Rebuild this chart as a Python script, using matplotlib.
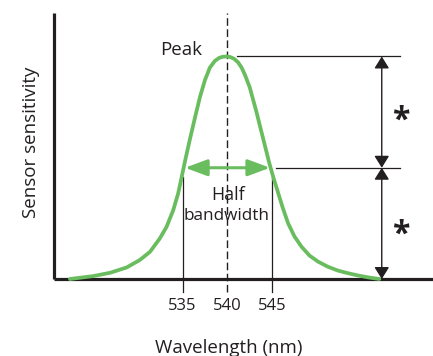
import matplotlib
matplotlib.use("Agg")
import matplotlib.pyplot as plt
from matplotlib import font_manager

plt.rcParams['font.family'] = ['Open Sans', 'DejaVu Sans']

# Data
wavelength = [522.4, 525.0, 526.9, 528.75, 530.2, 531.35, 532.45, 533.2, 533.95, 534.5,
              534.9, 535.3, 535.8, 536.4, 536.95, 537.5, 538.05, 538.6, 539.1, 539.5,
              539.9, 540.3, 540.75, 541.2, 541.6, 542.0, 542.5, 543.2, 543.95, 544.7,
              545.2, 545.7, 546.2, 546.8, 547.5, 548.3, 549.2, 550.15, 551.2, 552.35,
              553.5, 554.6, 555.8, 557.0]
sensitivity = [0.0, 0.013, 0.028, 0.052, 0.085, 0.122, 0.182, 0.234, 0.309, 0.384,
               0.459, 0.535, 0.625, 0.728, 0.819, 0.894, 0.950, 0.980, 0.994, 0.999,
               1.0, 0.998, 0.990, 0.974, 0.950, 0.915, 0.862, 0.760, 0.640, 0.520,
               0.450, 0.385, 0.320, 0.250, 0.192, 0.145, 0.105, 0.078, 0.056, 0.038,
               0.026, 0.016, 0.007, 0.0]
tick_values = [535, 540, 545]
tick_labels = ["535", "540", "545"]
peak_wl = 540
half_low, half_high = 535, 545
peak_level = 1.0
half_level = 0.5

GREEN = '#6abd5e'
INK = '#231f20'

names = {f.name for f in font_manager.fontManager.ttflist}
if 'Liberation Sans Narrow' in names:
    narrow = ['Liberation Sans Narrow', 'Open Sans', 'DejaVu Sans']
    nsize = 14
else:
    narrow = ['Open Sans', 'DejaVu Sans']
    nsize = 12.3

W, H = 433, 356
fig = plt.figure(figsize=(W / 100, H / 100), dpi=100)
ax = fig.add_axes([54 / W, 1 - 279 / H, 1 - 54 / W, (279 - 13) / H])
ax.set_xlim(520.62, 563.0)
ax.set_ylim(0, 1.1955)

for s in ['top', 'right']:
    ax.spines[s].set_visible(False)
for s in ['left', 'bottom']:
    ax.spines[s].set_linewidth(2.3)
    ax.spines[s].set_color(INK)
    ax.spines[s].set_capstyle('butt')

ax.set_yticks([])
ax.set_xticks(tick_values)
ax.set_xticklabels(tick_labels)
ax.tick_params(axis='x', length=0, pad=14, labelsize=12, labelcolor=INK)

# curve
ax.plot(wavelength, sensitivity, color=GREEN, lw=2.7, solid_joinstyle='round',
        solid_capstyle='round', zorder=3, clip_on=False)

# dashed center line
ax.plot([peak_wl, peak_wl], [-0.058, 1.1955], color=INK, lw=1.0,
        ls=(0, (5.5, 2.5)), clip_on=False, zorder=2)

# vertical lines at half bandwidth
for x in (half_low, half_high):
    ax.plot([x, x], [-0.058, 0.458], color=INK, lw=0.9, clip_on=False, zorder=2)

# horizontal reference lines
ax.plot([541.08, 559.32], [peak_level, peak_level], color=INK, lw=0.9, zorder=2)
ax.plot([545.45, 559.32], [half_level, half_level], color=INK, lw=0.9, zorder=2)

# black double arrows
arr_x = 557.27
for y0, y1 in ((peak_level, half_level), (half_level, 0.0)):
    ax.annotate('', xy=(arr_x, y1), xytext=(arr_x, y0),
                arrowprops=dict(arrowstyle='<|-|>,head_length=0.72,head_width=0.45',
                                mutation_scale=10, lw=1.0, color=INK,
                                shrinkA=0, shrinkB=0), zorder=4)

# green double arrow
ax.annotate('', xy=(535.27, half_level), xytext=(544.78, half_level),
            arrowprops=dict(arrowstyle='<|-|>,head_length=1.35,head_width=0.5',
                            mutation_scale=10, lw=2.2, color=GREEN,
                            shrinkA=0, shrinkB=0), zorder=4)

# texts
ax.text(534.88, 1.007, 'Peak', ha='center', va='baseline', fontsize=13.5, color=INK)
ax.text(540.1, 0.355, 'Half', ha='center', va='baseline', fontsize=nsize + 0.5,
        color=INK, family=narrow)
ax.text(539.95, 0.265, 'bandwidth', ha='center', va='baseline', fontsize=nsize,
        color=INK, family=narrow)
for yb in (0.670, 0.160):
    ax.text(559.4, yb, '*', ha='center', va='baseline', fontsize=23,
            fontweight='bold', color=INK)

ax.set_xlabel('Wavelength (nm)', fontsize=13.5, color=INK, va='top')
ax.xaxis.set_label_coords(0.4617, -0.2256)
ax.set_ylabel('Sensor sensitivity', fontsize=13.5, color=INK)
ax.yaxis.set_label_coords(-0.037, 0.515)

fig.savefig('out.png', dpi=100)
